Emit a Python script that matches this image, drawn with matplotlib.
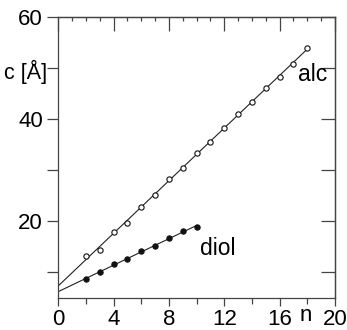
"""
Lattice spacing c versus chain length n for alcohols (open) and diols (filled).
Output: out.png
"""

import numpy as np
import matplotlib.pyplot as plt
from matplotlib.ticker import MultipleLocator

plt.rcParams["font.family"] = ["Liberation Sans", "DejaVu Sans"]

# -------------------------------------------------------------------
# Data
# -------------------------------------------------------------------
n_alc = [2, 3, 4, 5, 6, 7, 8, 9, 10, 11, 12, 13, 14, 15, 16, 17, 18]
c_alc = [13.1, 14.4, 17.9, 19.7, 22.7, 25.1, 28.3, 30.5, 33.4, 35.6,
         38.2, 41.1, 43.4, 46.1, 48.3, 50.9, 53.9]

n_diol = [2, 3, 4, 5, 6, 7, 8, 9, 10]
c_diol = [8.6, 10.1, 11.6, 12.5, 14.1, 15.2, 16.7, 18.0, 18.9]

# linear fits, drawn from n = 0
fit_alc = np.polyfit(n_alc, c_alc, 1)
fit_diol = np.polyfit(n_diol, c_diol, 1)

fig = plt.figure(figsize=(3.47, 3.30), dpi=100)
ax = fig.add_axes([0.168, 0.098, 0.797, 0.850])

xa = np.array([0, max(n_alc)])
xd = np.array([0, max(n_diol)])
ax.plot(xa, np.polyval(fit_alc, xa), color="#222", lw=0.8, zorder=2)
ax.plot(xd, np.polyval(fit_diol, xd), color="#222", lw=0.8, zorder=2)

ax.plot(n_alc, c_alc, "o", ms=3.8, mfc="white", mec="#111", mew=0.8, zorder=3)
ax.plot(n_diol, c_diol, "o", ms=3.8, mfc="#111", mec="#111", mew=0.8, zorder=3)

ax.text(17.35, 48.7, "alc", fontsize=16.5, ha="left", va="center")
ax.text(10.25, 14.6, "diol", fontsize=16.5, ha="left", va="center")

ax.set_xlim(0, 20)
ax.set_ylim(5, 60)

# bottom / left: outward ticks with labels
ax.xaxis.set_major_locator(MultipleLocator(4))
ax.xaxis.set_minor_locator(MultipleLocator(2))
ax.yaxis.set_major_locator(MultipleLocator(20))
ax.yaxis.set_minor_locator(MultipleLocator(10))
ax.tick_params(axis="both", which="major", direction="out", labelsize=16,
               color="#444", width=0.9)
ax.tick_params(axis="x", which="major", length=6, pad=2)
ax.tick_params(axis="x", which="minor", direction="out", length=4,
               color="#444", width=0.9)
ax.tick_params(axis="y", which="both", length=8, pad=3)
ax.tick_params(axis="y", which="minor", direction="out", color="#444",
               width=0.9)

# top / right: inward ticks, no labels
top = ax.secondary_xaxis("top")
top.xaxis.set_major_locator(MultipleLocator(4))
top.xaxis.set_minor_locator(MultipleLocator(1))
top.tick_params(which="major", direction="in", length=10, color="#444",
                width=0.9, labeltop=False)
top.tick_params(which="minor", direction="in", length=3, color="#444",
                width=0.9)
right = ax.secondary_yaxis("right")
right.yaxis.set_major_locator(MultipleLocator(10))
right.tick_params(which="major", direction="in", length=10, color="#444",
                  width=0.9, labelright=False)

for sp in list(ax.spines.values()) + [top.spines["top"], right.spines["right"]]:
    sp.set_color("#444")
    sp.set_linewidth(0.9)

ax.text(17.9, -0.027, "n", transform=ax.get_xaxis_transform(), fontsize=16,
        ha="center", va="top", clip_on=False)
ax.text(-0.84, 49.3, "c [Å]", fontsize=15.5, ha="right", va="center",
        clip_on=False)

fig.savefig("out.png", dpi=100)
plt.close(fig)
